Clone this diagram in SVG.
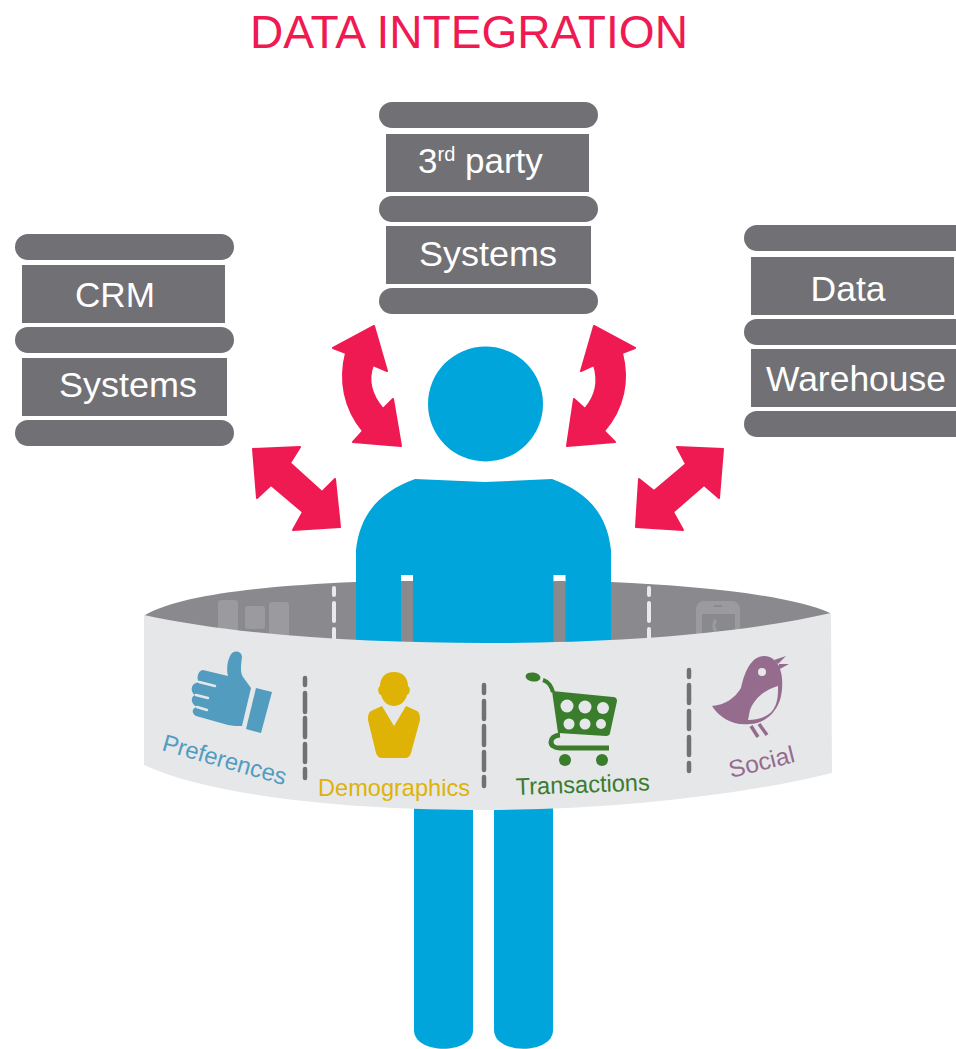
<svg xmlns="http://www.w3.org/2000/svg" width="956" height="1049" viewBox="0 0 956 1049">
<style>
text{font-family:"Liberation Sans",Arial,sans-serif}
.bar{fill:#717074}
.t{fill:#fff;font-size:35px}
.arrow{fill:#ef1a52;stroke:#ef1a52;stroke-width:2;stroke-linejoin:round}
.dark{stroke:#717074;stroke-width:4.5;stroke-linecap:round;fill:none}
.light{stroke:#e9e9eb;stroke-width:4;stroke-linecap:round;fill:none}
.ghost{fill:#9b9a9e}
.blue{fill:#00a5dc}
</style>
<rect width="956" height="1049" fill="#fff"/>
<text x="469" y="48" text-anchor="middle" font-size="46" fill="#ef1a52" textLength="438" lengthAdjust="spacingAndGlyphs">DATA INTEGRATION</text>

<g id="node-crm">
<rect class="bar" x="15" y="234" width="219" height="26" rx="13"/>
<rect class="bar" x="22" y="265" width="203" height="58"/>
<rect class="bar" x="15" y="327" width="219" height="26" rx="13"/>
<rect class="bar" x="22" y="358" width="205" height="58"/>
<rect class="bar" x="15" y="420" width="219" height="26" rx="13"/>
<text class="t" x="115" y="307" text-anchor="middle" textLength="80" lengthAdjust="spacingAndGlyphs">CRM</text>
<text class="t" x="128" y="397" text-anchor="middle" textLength="138" lengthAdjust="spacingAndGlyphs">Systems</text>
</g>
<g id="node-3rd-party">
<rect class="bar" x="379" y="102" width="219" height="26" rx="13"/>
<rect class="bar" x="386" y="134" width="203" height="58"/>
<rect class="bar" x="379" y="196" width="219" height="26" rx="13"/>
<rect class="bar" x="386" y="226" width="205" height="58"/>
<rect class="bar" x="379" y="288" width="219" height="26" rx="13"/>
<text class="t" x="418" y="173">3<tspan font-size="20" dy="-12">rd</tspan><tspan dy="12"> party</tspan></text>
<text class="t" x="488" y="266" text-anchor="middle" textLength="138" lengthAdjust="spacingAndGlyphs">Systems</text>
</g>
<g id="node-warehouse">
<path class="bar" d="M757 225H956V251H757a13 13 0 0 1 0-26Z"/>
<rect class="bar" x="751" y="257" width="203" height="58"/>
<path class="bar" d="M757 319H956V345H757a13 13 0 0 1 0-26Z"/>
<rect class="bar" x="751" y="349" width="205" height="58"/>
<path class="bar" d="M757 411H956V437H757a13 13 0 0 1 0-26Z"/>
<text class="t" x="848" y="301" text-anchor="middle" textLength="75" lengthAdjust="spacingAndGlyphs">Data</text>
<text class="t" x="856" y="391" text-anchor="middle" textLength="180" lengthAdjust="spacingAndGlyphs">Warehouse</text>
</g>

<g id="connectors">
<path class="arrow" d="M253 449L300 447L290 463L322 492L335 479L340 527L293 530L303 512L271 485L257 498Z"/>
<path class="arrow" d="M723 449L677 447L686 464L654 491L639 479L636 527L683 530L673 512L704 485L719 498Z"/>
<path class="arrow" d="M374 326L333 348L346 353C339 380 344 408 363 431L353 442L401 446L393 399L383 409C371 395 367 381 373 365L387 371Z"/>
<path class="arrow" d="M594 326L635 348L622 353C629 380 624 408 604 431L615 442L567 446L574 399L585 409C597 395 599 381 594 365L581 371Z"/>
</g>

<g id="node-person">
<circle class="blue" cx="485.500" cy="404" r="57.500"/>
<path class="blue" d="M415 479L485 482L552 479C585 491 607 512 611 550V650H356V550C360 512 382 491 415 479Z"/>
<path class="blue" d="M414 800H473V1030C473 1055 414 1055 414 1030Z"/>
<path class="blue" d="M494 800H553V1030C553 1055 494 1055 494 1030Z"/>
</g>

<g id="node-band">
<path d="M145 615C180 595 260 586 356 582V645H145ZM611 582C700 586 790 595 830 613V645H611Z" fill="#8a898d"/>
<rect class="ghost" x="218" y="600" width="20" height="45" rx="3"/>
<rect class="ghost" x="245" y="606" width="20" height="23" rx="3"/>
<rect class="ghost" x="269" y="602" width="20" height="43" rx="3"/>
<path class="ghost" fill-rule="evenodd" d="M704 601H732a8 8 0 0 1 8 8V645H696V609a8 8 0 0 1 8-8ZM702 614V645H735V614ZM714 605h8v2h-8ZM714 619l3 2-2 5 2 4-3 3c-2-5-2-9 0-14Z"/>
<path class="light" d="M334 588V595M334 603V621M334 629V645M649 588V595M649 603V621M649 629V645"/>
<rect x="401" y="575" width="12" height="7" fill="#fff"/><rect x="401" y="581" width="12" height="64" fill="#8a898d"/>
<rect x="553.500" y="575" width="12" height="7" fill="#fff"/><rect x="553.500" y="581" width="12" height="64" fill="#8a898d"/>
<path d="M144 615C240 636 370 643 485 643C600 643 730 636 831 613L832 773C730 798 600 810 485 810C370 810 220 800 144 765Z" fill="#e6e7e9"/>
<path class="dark" d="M305 678V685M305 693V712M305 718V737M305 744V762M305 769V778M484 685V693M484 701V719M484 726V745M484 752V770M484 777V786M689 670V677M689 685V703M689 711V729M689 737V755M689 763V771"/>
</g>

<g id="node-preferences">
<path d="M256 688L272 692L261 733L246 729Z" fill="#529cc0"/>
<path d="M228 676C226 668 228 660 230 656C233 649 242 651 242 657C241 665 240 672 243 677L251 688L242 726C238 726 232 726 228 725L196 716C191 713 192 708 197 707C191 704 190 697 195 695C190 692 191 684 196 683L199 682C196 679 198 670 203 670Z" fill="#529cc0"/>
<path d="M199 682L215 686M196 695L208 698M197 707L207 710" stroke="#e6e7e9" stroke-width="2.500" fill="none" stroke-linecap="round"/>
<text transform="translate(161 750) rotate(16)" font-size="24" fill="#529cc0" textLength="128" lengthAdjust="spacingAndGlyphs">Preferences</text>
</g>
<g id="node-demographics">
<path d="M394 672C403 672 408 678 408 686C411 688 410 694 407 695C405 702 400 706 394 706C388 706 383 702 381 695C378 694 377 688 380 686C380 678 385 672 394 672Z" fill="#deb306"/>
<path d="M382 706L394 726L406 706L417 711C420 713 420 717 420 720L411 753C410 756 408 758 405 758H382C379 758 377 756 376 753L368 720C368 717 368 713 371 711Z" fill="#deb306"/>
<text x="318" y="796" font-size="24" fill="#deb306" textLength="152" lengthAdjust="spacingAndGlyphs">Demographics</text>
</g>
<g id="node-transactions">
<ellipse cx="533" cy="677" rx="7.500" ry="4.500" transform="rotate(8 533 677)" fill="#3a7d2c"/>
<path d="M543 680C549 682 551 686 553 692" stroke="#3a7d2c" stroke-width="4" fill="none"/>
<path d="M552 691L613 697C616 697 617 699 617 701L610 733C610 735 608 736 606 736L558 733Z" fill="#3a7d2c"/>
<path d="M560 735C548 736 548 748 560 748H609" stroke="#3a7d2c" stroke-width="5" fill="none"/>
<circle cx="565" cy="760" r="6" fill="#3a7d2c"/><circle cx="602" cy="760" r="6" fill="#3a7d2c"/>
<g fill="#e6e7e9"><circle cx="567" cy="706" r="6.500"/><circle cx="585" cy="707" r="6.500"/><circle cx="603" cy="708" r="6"/><circle cx="569" cy="724" r="5.500"/><circle cx="585" cy="724" r="5.500"/><circle cx="601" cy="724" r="5"/></g>
<text transform="translate(516 795) rotate(-2)" font-size="24" fill="#3a7d2c" textLength="134" lengthAdjust="spacingAndGlyphs">Transactions</text>
</g>
<g id="node-social">
<path d="M712 706C725 705 735 698 741 688C745 670 752 656 764 656C772 656 778 662 780 669C783 677 783 690 780 700C775 715 762 724 750 724C733 726 720 718 712 706Z" fill="#956b8e"/>
<path d="M778 686C765 690 755 697 750 710L748 720C758 720 768 717 773 710C778 702 778 695 778 686Z" fill="#e6e7e9"/>
<circle cx="762" cy="672" r="4" fill="#e6e7e9"/>
<path d="M774 660L786 656L778 664ZM778 670L789 664L779 664Z" fill="#956b8e"/>
<path d="M751 726L758 737M759 724L767 735" stroke="#956b8e" stroke-width="3.500" fill="none"/>
<text transform="translate(731 778) rotate(-14)" font-size="24" fill="#956b8e" textLength="67" lengthAdjust="spacingAndGlyphs">Social</text>
</g>
</svg>
